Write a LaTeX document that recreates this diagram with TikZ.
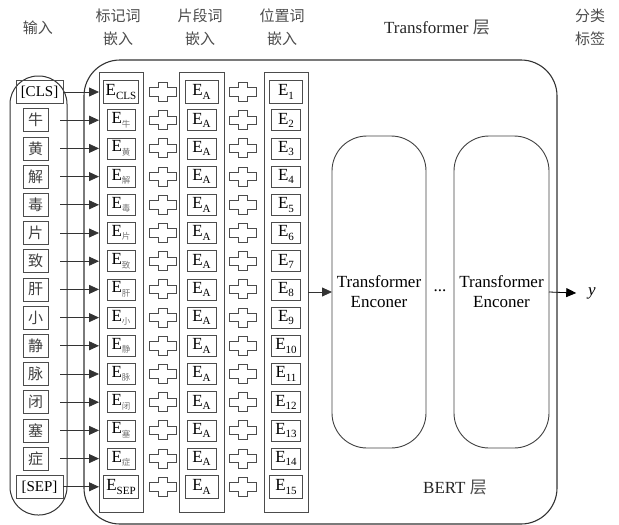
\documentclass[tikz,border=0pt]{standalone}
\usepackage{fontspec}
\setmainfont{Liberation Serif}
\newfontfamily\cjk{Noto Sans CJK SC}
\usetikzlibrary{arrows.meta}
\newcommand\Ecn[1]{E\raisebox{-0.45ex}{\cjk\fontsize{8.5}{8.5}\selectfont\color{black!55}#1}}
\newcommand\Esb[1]{E\raisebox{-0.45ex}{\fontsize{11}{11}\selectfont #1}}
\begin{document}
\begin{tikzpicture}[x=1pt,y=-1pt,
  every node/.style={inner sep=0pt, outer sep=0pt},
  frame/.style={draw=black!80, line width=1.1pt},
  colbox/.style={draw=black!70, line width=0.8pt, minimum height=440pt},
  inbox/.style={draw=black!70, line width=0.8pt, minimum width=25pt, minimum height=23pt, font=\cjk\fontsize{15}{15}\selectfont, text=black!75},
  ebox/.style={draw=black!70, line width=0.8pt, minimum height=21pt, font=\fontsize{17}{17}\selectfont},
  bigrow/.style={minimum height=23pt},
  arr/.style={draw=black!80, line width=0.8pt, -{Triangle[length=10pt,width=9pt]}},
  head/.style={font=\cjk\fontsize{15}{23}\selectfont, text=black!70, align=center},
  enc/.style={draw=black!75, line width=0.9pt, rounded corners=35pt, minimum height=312pt, align=center, font=\fontsize{17}{20}\selectfont},
  plussign/.pic={\draw[black!70, line width=0.9pt] (-4.5,-9.5) -- (4.5,-9.5) -- (4.5,-4.2) -- (13.5,-4.2) -- (13.5,4.2) -- (4.5,4.2) -- (4.5,9.5) -- (-4.5,9.5) -- (-4.5,4.2) -- (-13.5,4.2) -- (-13.5,-4.2) -- (-4.5,-4.2) -- cycle;}
]
\useasboundingbox (0,0) rectangle (619,525);

% headers
\node[head] (h1) at (38,28) {输入};
\node[head] (h2) at (118,27) {标记词\\嵌入};
\node[head] (h3) at (200,27) {片段词\\嵌入};
\node[head] (h4) at (282,27) {位置词\\嵌入};
\node[font=\fontsize{17}{17}\selectfont, text=black!85] (h5) at (437,28) {Transformer {\cjk\color{black!70}层}};
\node[head] (h6) at (590,27) {分类\\标签};

% containers
\node[draw=black!80, line width=1pt, rounded corners=28pt, minimum width=57pt, minimum height=439pt] (incont) at (38.5,295.5) {};
\node[frame, rounded corners=36pt, minimum width=473pt, minimum height=464pt] (bert) at (320.5,292) {};
\node[font=\fontsize{17}{17}\selectfont, text=black!85] (bertlab) at (455,488) {BERT {\cjk\color{black!70}层}};

% embedding columns
\node[colbox, minimum width=44pt] (tokcol) at (121,292) {};
\node[colbox, minimum width=45pt] (segcol) at (201.5,292) {};
\node[colbox, minimum width=44pt] (poscol) at (286,292) {};

% input tokens
\node[inbox, bigrow, minimum width=47pt, font=\fontsize{15}{15}\selectfont, text=black] (t0) at (39.5,92) {[CLS]};
\foreach \c [count=\i] in {牛,黄,解,毒,片,致,肝,小,静,脉,闭,塞,症}
  \node[inbox] (t\i) at (35.5,{92+28.2*\i}) {\c};
\node[inbox, bigrow, minimum width=47pt, font=\fontsize{15}{15}\selectfont, text=black] (t14) at (39.5,{92+28.2*14}) {[SEP]};

% token embeddings
\node[ebox, bigrow, minimum width=35pt] (e0) at (121,92) {\Esb{CLS}};
\foreach \c [count=\i] in {牛,黄,解,毒,片,致,肝,小,静,脉,闭,塞,症}
  \node[ebox, minimum width=28pt] (e\i) at (121,{92+28.2*\i}) {\Ecn{\c}};
\node[ebox, bigrow, minimum width=35pt] (e14) at (121,{92+28.2*14}) {\Esb{SEP}};

% segment and position embeddings
\foreach \i in {0,...,14}{
  \pgfmathtruncatemacro\n{\i+1}
  \ifnum\i=0 \def\w{4}\def\h{23}\else\ifnum\i=14 \def\w{4}\def\h{23}\else\def\w{0}\def\h{21}\fi\fi
  \node[ebox, minimum height=\h pt, minimum width={(29+\w)*1pt}] (s\i) at (201.5,{92+28.2*\i}) {\Esb{A}};
  \node[ebox, minimum height=\h pt, minimum width={(29+\w)*1pt}] (p\i) at (286,{92+28.2*\i}) {\Esb{\n}};
  \pic at (163,{92+28.2*\i}) {plussign};
  \pic at (243,{92+28.2*\i}) {plussign};
}

% arrows from inputs
\coordinate (xs) at (60,0);
\draw[arr] (t0.east) -- (t0.east -| tokcol.west);
\foreach \i in {1,...,13}
  \draw[arr] (t\i -| xs) -- (t\i -| tokcol.west);
\draw[arr] (t14.east) -- (t14.east -| tokcol.west);

% transformer encoders
\node[enc, minimum width=94pt] (enc1) at (379,292) {Transformer\\Enconer};
\node[enc, minimum width=95pt] (enc2) at (501.5,292) {Transformer\\Enconer};
\node[font=\fontsize{17}{17}\selectfont] (dots) at (440,291) {...};
\node[font=\fontsize{17}{17}\selectfont\itshape, outer xsep=12pt] (ylab) at (592,293) {y};

\draw[arr] (poscol.east) -- (enc1.west);
\draw[arr, draw=black] (enc2.east) -- (ylab.west);
\end{tikzpicture}
\end{document}
